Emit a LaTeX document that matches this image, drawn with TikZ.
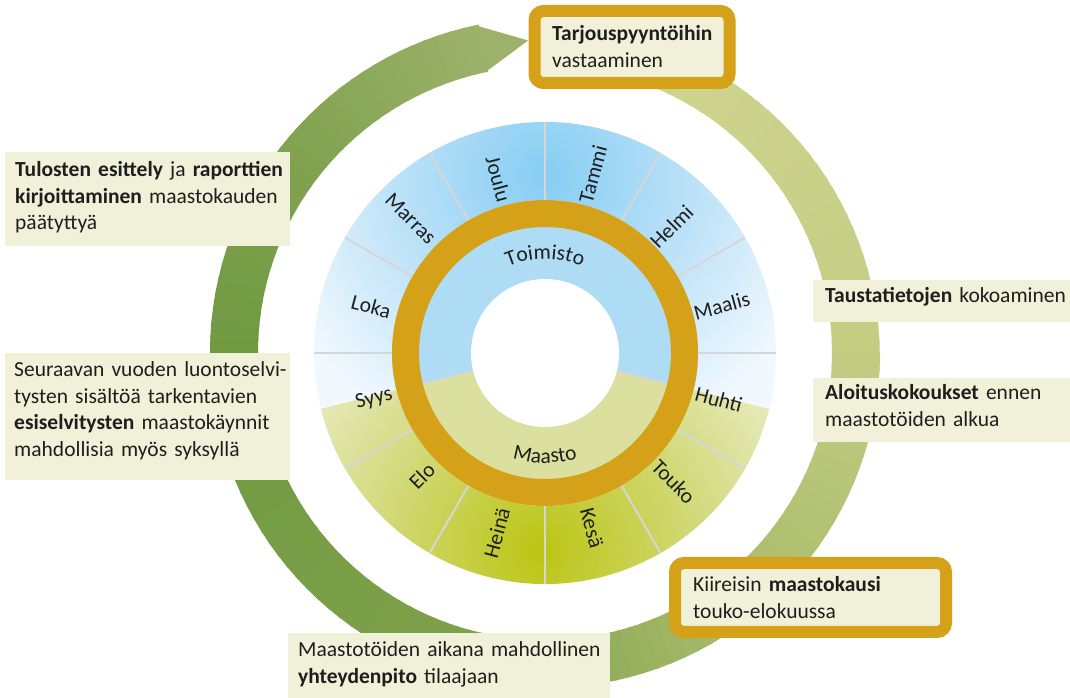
\documentclass[tikz,border=0pt]{standalone}
\usepackage{fontspec}
\setmainfont{Carlito}
\usetikzlibrary{decorations.text}
\definecolor{gold}{HTML}{D5A118}
\definecolor{cream}{HTML}{F1F1D9}
\definecolor{ink}{HTML}{1E1E1E}
\definecolor{divgray}{HTML}{D6D6D6}
\definecolor{toiblue}{HTML}{AEDCF5}
\definecolor{maagreen}{HTML}{DCE09F}
\definecolor{bA}{HTML}{86CDF3}
\definecolor{bB}{HTML}{BFE3F8}
\definecolor{bC}{HTML}{F2F9FE}
\definecolor{vA}{HTML}{BBC512}
\definecolor{vB}{HTML}{D2D97A}
\definecolor{vC}{HTML}{EAEDC8}
\definecolor{gA}{HTML}{D0D590}
\definecolor{gB}{HTML}{C4CC82}
\definecolor{gC}{HTML}{A4B968}
\definecolor{gD}{HTML}{7FA24B}
\definecolor{gE}{HTML}{6F9940}
\definecolor{gF}{HTML}{84A453}
\definecolor{gG}{HTML}{9CB26A}
\pgfdeclareradialshading{blueshade}{\pgfpoint{0bp}{0bp}}{color(0bp)=(bA); color(12bp)=(bB); color(22bp)=(bC); color(50bp)=(bC)}
\pgfdeclareradialshading{greenshade}{\pgfpoint{0bp}{0bp}}{color(0bp)=(vA); color(12bp)=(vB); color(22bp)=(vC); color(50bp)=(vC)}
\newcommand\lblfont{\fontsize{21.5}{25}\selectfont}
\tikzset{
  note/.style={fill=cream},
  goldbox/.style={draw=gold, line width=12, fill=cream, rounded corners=9},
  txt/.style={anchor=base west, inner sep=0, text width=330pt, align=left,
    font=\fontsize{21.5}{26.5}\selectfont, text=ink},
  month/.style={inner sep=0, font=\lblfont, text=ink},
  divider/.style={draw=divgray, line width=2},
}
\begin{document}
\begin{tikzpicture}[x=1pt,y=1pt]
\useasboundingbox (0,0) rectangle (1070,698);
\fill[white] (0,0) rectangle (1070,698);
\begin{scope}[shift={(545,345)}]
  % big cycle band
  \foreach \sA/\eA/\cA/\cB in {75/0/gA/gB, 0/-60/gB/gC, -60/-100/gC/gD, -100/-180/gD/gE, -180/-225/gE/gF, -225/-258/gF/gG}{
    \pgfmathtruncatemacro\nseg{ceil((\sA-\eA)/2.5)}
    \foreach \i in {1,...,\nseg}{
      \pgfmathsetmacro\angA{\sA-(\sA-\eA)*(\i-1)/\nseg}
      \pgfmathsetmacro\angB{\sA-(\sA-\eA)*\i/\nseg-0.6}
      \pgfmathsetmacro\pct{100*(\i-0.5)/\nseg}
      \pgfmathsetmacro\rout{335-8*max(\angA,0)/75}
      \fill[\cB!\pct!\cA] (\angA:287) -- (\angA:\rout) arc[start angle=\angA, end angle=\angB, radius=\rout] -- (\angB:287) arc[start angle=\angB, end angle=\angA, radius=287] -- cycle;
    }
  }
  \fill[gG] (-258:335) -- (-266.9:313) -- (-258:287) -- cycle;
  % month ring: upper blue
  \begin{scope}
    \clip (194:153) -- (194:231) arc[start angle=194, end angle=-14, radius=231] -- (-14:153) arc[start angle=-14, end angle=194, radius=153] -- cycle;
    \shade[shading=blueshade] (0,178) circle (330);
  \end{scope}
  % month ring: lower green
  \begin{scope}
    \clip (-14:153) -- (-14:231) arc[start angle=-14, end angle=-166, radius=231] -- (-166:153) arc[start angle=-166, end angle=-14, radius=153] -- cycle;
    \shade[shading=greenshade] (-5,-197) circle (330);
  \end{scope}
  % inner ring
  \fill[maagreen] (0,0) circle (153);
  \fill[toiblue] (0,0) -- (194:153) arc[start angle=194, end angle=-14, radius=153] -- cycle;
  % dividers
  \foreach \t in {0,30,...,330} \draw[divider] (\t:153) -- (\t:231);
  \draw[divider, line width=1.5] (194:74) -- (194:130);
  \draw[divider, line width=1.5] (-14:74) -- (-14:130);
  % month labels
  \foreach \m/\t/\r/\k in {Tammi/75/185/1, Helmi/45/179/2, Maalis/15/183/3, Huhti/-15/180/4, Touko/-45/182/5, Kesä/-75/181/6}
    \node[month, rotate=\t] (mon\k) at (\t:\r) {\m};
  \foreach \m/\t/\r/\k in {Heinä/-105/186/7, Elo/-135/174/8, Syys/-165/177/9, Loka/165/180/10, Marras/135/190/11, Joulu/105/180/12}
    \node[month, rotate=\t+180] (mon\k) at (\t:\r) {\m};
  % gold ring and hole
  \draw[gold, line width=27] (0,0) circle (139.5);
  \fill[white] (0,0) circle (74);
  % inner labels
  \path[decorate, decoration={text along path, text={|\lblfont\color{ink}|Toimisto}, text align=center}]
    (122:94) arc[start angle=122, end angle=58, radius=94];
  \path[decorate, decoration={text along path, text={|\lblfont\color{ink}|Maasto}, text align=center}]
    (238:110) arc[start angle=238, end angle=302, radius=110];
\end{scope}
% boxes
\draw[goldbox] (534.5,615) rectangle (729.5,687);
\node[txt] (tarjous) at (552,657) {\textbf{Tarjouspyyntöihin}\\vastaaminen};
\fill[note] (5,452) rectangle (290,546);
\node[txt] (tulosten) at (15,521) {\textbf{Tulosten esittely} ja \textbf{raporttien}\\\textbf{kirjoittaminen} maastokauden\\päätyttyä};
\fill[note] (5,218) rectangle (290,345);
\node[txt] (seuraavan) at (14,321) {Seuraavan vuoden luontoselvi-\\tysten sisältöä tarkentavien\\\textbf{esiselvitysten} maastokäynnit\\mahdollisia myös syksyllä};
\fill[note] (813,376) rectangle (1070,418);
\node[txt] (tausta) at (825,395) {\textbf{Taustatietojen} kokoaminen};
\fill[note] (813,256) rectangle (1070,320);
\node[txt] (aloitus) at (825,298) {\textbf{Aloituskokoukset} ennen\\maastotöiden alkua};
\draw[goldbox] (675,66) rectangle (946,135);
\node[txt] (kiireisin) at (693,106) {Kiireisin \textbf{maastokausi}\\touko-elokuussa};
\fill[note] (288,0) rectangle (610,65);
\node[txt] (maastotyot) at (298,41) {Maastotöiden aikana mahdollinen\\\textbf{yhteydenpito} tilaajaan};
\end{tikzpicture}
\end{document}
